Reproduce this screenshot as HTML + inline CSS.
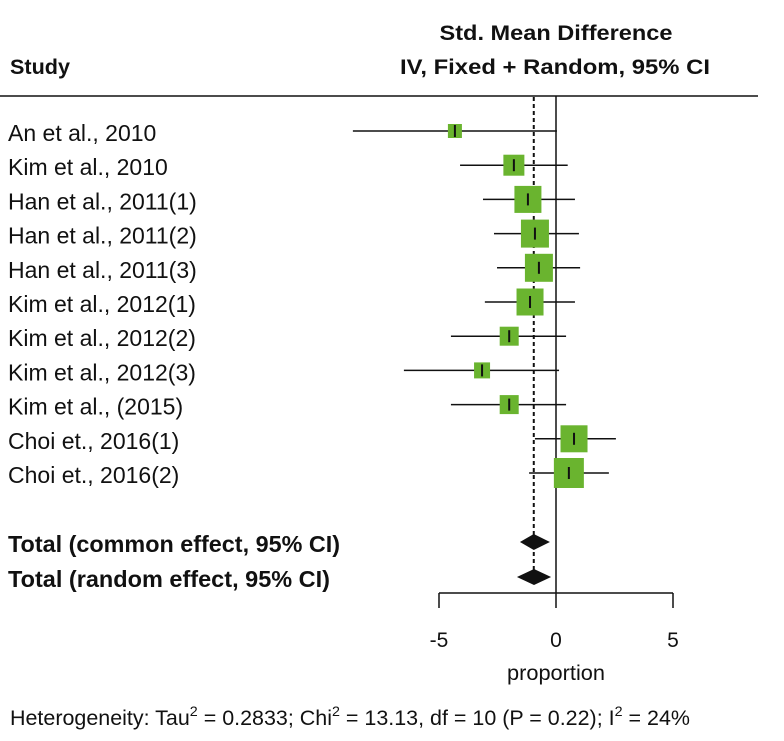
<!DOCTYPE html>
<html><head><meta charset="utf-8"><style>
body{margin:0;background:#fff;}
svg{display:block;font-family:"Liberation Sans",Arial,sans-serif;}
</style></head><body>
<svg id="chart" width="784" height="741" viewBox="0 0 784 741">
<text x="556" y="40" font-size="21" font-weight="bold" text-anchor="middle" fill="#111" textLength="233" lengthAdjust="spacingAndGlyphs">Std. Mean Difference</text>
<text x="555" y="74" font-size="21" font-weight="bold" text-anchor="middle" fill="#111" textLength="310" lengthAdjust="spacingAndGlyphs">IV, Fixed + Random, 95% CI</text>
<text x="10" y="74" font-size="21" font-weight="bold" fill="#111" textLength="60" lengthAdjust="spacingAndGlyphs">Study</text>
<line x1="0" y1="96" x2="758" y2="96" stroke="#111" stroke-width="1.5"/>
<g id="rows"></g>
<text x="10" y="725" font-size="21" fill="#111" textLength="680" lengthAdjust="spacingAndGlyphs">Heterogeneity: Tau<tspan dy="-9" font-size="14">2</tspan><tspan dy="9"> = 0.2833; Chi</tspan><tspan dy="-9" font-size="14">2</tspan><tspan dy="9"> = 13.13, df = 10 (P = 0.22); I</tspan><tspan dy="-9" font-size="14">2</tspan><tspan dy="9"> = 24%</tspan></text>
</svg>
<script>
const studies=["An et al., 2010","Kim et al., 2010","Han et al., 2011(1)","Han et al., 2011(2)","Han et al., 2011(3)","Kim et al., 2012(1)","Kim et al., 2012(2)","Kim et al., 2012(3)","Kim et al., (2015)","Choi et., 2016(1)","Choi et., 2016(2)"];
const estimates=[-4.32,-1.8,-1.2,-0.9,-0.73,-1.11,-2.0,-3.16,-2.0,0.77,0.55];
const lower=[-8.68,-4.1,-3.12,-2.65,-2.52,-3.04,-4.49,-6.5,-4.49,-0.9,-1.15];
const upper=[0.04,0.5,0.81,0.98,1.03,0.81,0.43,0.13,0.43,2.56,2.26];
const weights=[14,21,27,28,28,27,19,16,19,27,30];
const pooledLabels=["Total (common effect, 95% CI)","Total (random effect, 95% CI)"];
const pooledEst=[-0.95,-0.94];
const pooledLower=[-1.54,-1.67];
const pooledUpper=[-0.26,-0.21];
const ticks=[-5,0,5];
const axisTitle="proportion";

const NS="http://www.w3.org/2000/svg";
const g=document.getElementById('rows');
const x=v=>556+v*23.4;
const rowY=i=>131+i*34.2;
const pY=i=>542+i*35;
function mk(t,a){const e=document.createElementNS(NS,t);for(const k in a)e.setAttribute(k,a[k]);g.appendChild(e);return e;}
let e=mk('line',{x1:x(0),y1:96,x2:x(0),y2:593,stroke:'#111','stroke-width':1.5});


e=mk('line',{x1:x(pooledEst[0]),y1:97,x2:x(pooledEst[0]),y2:pY(1),stroke:'#111','stroke-width':2,'stroke-dasharray':'4,3'});


studies.forEach((s,i)=>{
  const y=rowY(i);
  let t=mk('text',{x:8,y:y+10,'font-size':23,fill:'#111'});t.textContent=s;
  
  
  let l=mk('line',{x1:x(lower[i]),y1:y,x2:x(upper[i]),y2:y,stroke:'#111','stroke-width':1.5});
  
  
  const w=weights[i];
  let r=mk('rect',{x:x(estimates[i])-w/2,y:y-w/2,width:w,height:w,fill:'#6ab42f'});
  
  
  let m=mk('line',{x1:x(estimates[i]),y1:y-6,x2:x(estimates[i]),y2:y+6,stroke:'#111','stroke-width':2});
  
  
});
const pooledW=[332,322];
pooledLabels.forEach((s,i)=>{
  const y=pY(i);
  let t=mk('text',{x:8,y:y+10,'font-size':23,'font-weight':'bold',fill:'#111',textLength:pooledW[i],lengthAdjust:'spacingAndGlyphs'});t.textContent=s;
  
  
  let d=mk('polygon',{points:`${x(pooledLower[i])},${y} ${x(pooledEst[i])},${y-8} ${x(pooledUpper[i])},${y} ${x(pooledEst[i])},${y+8}`,fill:'#111'});
  
  
});
e=mk('line',{x1:x(ticks[0]),y1:593,x2:x(ticks[ticks.length-1]),y2:593,stroke:'#111','stroke-width':1.5});


ticks.forEach(v=>{
  let l=mk('line',{x1:x(v),y1:593,x2:x(v),y2:608,stroke:'#111','stroke-width':1.5});
  
  
  let t=mk('text',{x:x(v),y:647,'font-size':21,'text-anchor':'middle',fill:'#111'});t.textContent=v;
  
  
});
let at=mk('text',{x:x(0),y:680,'font-size':21,'text-anchor':'middle',fill:'#111',textLength:98,lengthAdjust:'spacingAndGlyphs'});at.textContent=axisTitle;


</script>
</body></html>
